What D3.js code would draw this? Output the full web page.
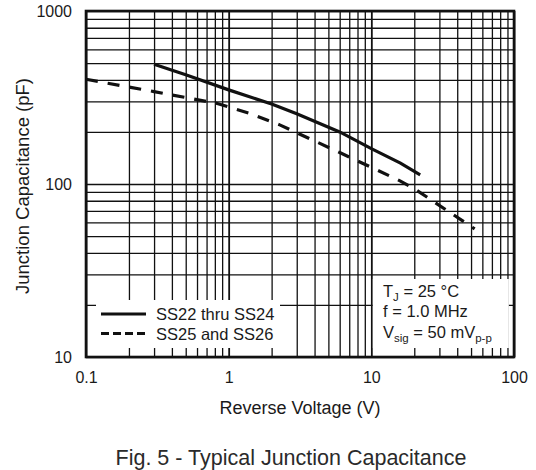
<!DOCTYPE html>
<html>
<head>
<meta charset="utf-8">
<script src="https://cdn.jsdelivr.net/npm/d3@7"></script>
<style>
  body { margin: 0; background: #fff; }
  text { font-family: "Liberation Sans", Arial, Helvetica, sans-serif; fill: #1a1a1a; }
</style>
</head>
<body>
<div class="chart"></div>
<script>
// values
const xTickValues = [0.1, 1, 10, 100];
const yTickValues = [10, 100, 1000];
const seriesNames = ["SS22 thru SS24", "SS25 and SS26"];

const voltageSolid = [0.3, 0.5, 1, 2, 3, 6, 10, 16, 22];
const capSolid = [492, 428, 350, 290, 255, 200, 160, 132, 113];

const voltageDashed = [0.1, 0.3, 0.5, 0.82, 1.4, 2.3, 6, 16, 20, 53];
const capDashed = [403, 342, 316, 293, 256, 219, 152, 104, 94, 55];

const conditions = ["T|J| = 25 °C", "f = 1.0 MHz", "V|sig| = 50 mV|p-p"];

const margin = ({top: 11, right: 22, bottom: 113, left: 86});
const width = 536, height = 470;
const w = width - margin.left - margin.right,
      h = height - margin.top - margin.bottom;

const xScale = d3.scaleLog().domain([0.1, 100]).range([0, w]);
const yScale = d3.scaleLog().domain([10, 1000]).range([h, 0]);

const svg = d3.select(".chart").append("svg")
    .attr("width", width)
    .attr("height", height);

const g = svg.append("g")
    .attr("transform", "translate(" + margin.left + "," + margin.top + ")");

// grid, every 1..9 of each decade
const xGrid = xScale.ticks();
const yGrid = yScale.ticks();

g.append("g")
    .attr("class", "x-grid")
    .call(d3.axisBottom(xScale).tickValues(xGrid).tickSize(-h).tickFormat(""))
    .attr("transform", "translate(0," + h + ")")
    .call(ax => ax.select(".domain").remove())
    .selectAll(".tick line")
    .attr("stroke", "#111")
    .attr("stroke-width", d => Number.isInteger(Math.log10(d) + 1e-9) || Math.abs(Math.log10(d) - Math.round(Math.log10(d))) < 1e-6 ? 1.8 : 1.3);

g.append("g")
    .attr("class", "y-grid")
    .call(d3.axisLeft(yScale).tickValues(yGrid).tickSize(-w).tickFormat(""))
    .call(ax => ax.select(".domain").remove())
    .selectAll(".tick line")
    .attr("stroke", "#111")
    .attr("stroke-width", 1.3);

// white boxes behind legend and conditions (grid shows only as stubs)
g.append("rect")
    .attr("x", 10).attr("y", 289)
    .attr("width", 184).attr("height", 48)
    .attr("fill", "white");
g.append("rect")
    .attr("x", xScale(10) + 1.5).attr("y", 268)
    .attr("width", 136).attr("height", 69)
    .attr("fill", "white");

// curves
const line = d3.line()
    .x(d => xScale(d[0]))
    .y(d => yScale(d[1]));

const solidData = d3.zip(voltageSolid, capSolid);
const dashedData = d3.zip(voltageDashed, capDashed);

g.append("path")
    .datum(solidData)
    .attr("fill", "none")
    .attr("stroke", "#111")
    .attr("stroke-width", 3.2)
    .attr("d", line);

g.append("path")
    .datum(dashedData)
    .attr("fill", "none")
    .attr("stroke", "#111")
    .attr("stroke-width", 3.2)
    .attr("stroke-dasharray", "12,10")
    .attr("d", line);

// frame
g.append("rect")
    .attr("width", w).attr("height", h)
    .attr("fill", "none")
    .attr("stroke", "#111")
    .attr("stroke-width", 2.6);

// axes labels
const xAxis = d3.axisBottom(xScale)
    .tickValues(xTickValues)
    .tickSize(0)
    .tickPadding(15)
    .tickFormat(d3.format("~g"));
const yAxis = d3.axisLeft(yScale)
    .tickValues(yTickValues)
    .tickSize(0)
    .tickPadding(14)
    .tickFormat(d3.format("~g"));

g.append("g")
    .attr("class", "x-axis")
    .attr("transform", "translate(0," + h + ")")
    .call(xAxis)
    .call(ax => ax.select(".domain").remove())
    .selectAll("text")
    .attr("font-size", 16)
    .attr("font-family", null)
    .attr("fill", "#1a1a1a");

g.append("g")
    .attr("class", "y-axis")
    .call(yAxis)
    .call(ax => ax.select(".domain").remove())
    .selectAll("text")
    .attr("font-size", 16)
    .attr("dy", "0.36em")
    .attr("fill", "#1a1a1a");
svg.selectAll(".x-axis, .y-axis").attr("font-family", null);

// titles
svg.append("text")
    .attr("x", margin.left + w / 2)
    .attr("y", 414)
    .attr("text-anchor", "middle")
    .attr("font-size", 18)
    .text("Reverse Voltage (V)");

svg.append("text")
    .attr("transform", "translate(28.5," + (margin.top + h / 2 + 2) + ") rotate(-90)")
    .attr("text-anchor", "middle")
    .attr("font-size", 18.5)
    .text("Junction Capacitance (pF)");

svg.append("text")
    .attr("x", 291)
    .attr("y", 465)
    .attr("text-anchor", "middle")
    .attr("font-size", 21.5)
    .style("fill", "#2a2a2a")
    .text("Fig. 5 - Typical Junction Capacitance");

// legend
const legend = g.append("g").attr("transform", "translate(15,303)");
seriesNames.forEach(function(name, i) {
    const row = legend.append("g").attr("transform", "translate(0," + (i * 19.5) + ")");
    row.append("line")
        .attr("x1", 0).attr("x2", 45)
        .attr("stroke", "#111")
        .attr("stroke-width", 2.8)
        .attr("stroke-dasharray", i === 0 ? null : "8,4");
    row.append("text")
        .attr("x", 55)
        .attr("y", 6)
        .attr("font-size", 16.5)
        .text(name);
});

// test conditions, "|" marks subscript parts
conditions.forEach(function(str, i) {
    const t = g.append("text")
        .attr("x", 297)
        .attr("y", 286 + i * 20.3)
        .attr("font-size", 16.5);
    str.split("|").forEach(function(part, j) {
        if (!part) return;
        const sub = j % 2 === 1;
        t.append("tspan")
            .attr("font-size", sub ? 11.5 : 16.5)
            .attr("dy", sub ? 4 : (j > 0 ? -4 : 0))
            .text(part);
    });
});
</script>
</body>
</html>
